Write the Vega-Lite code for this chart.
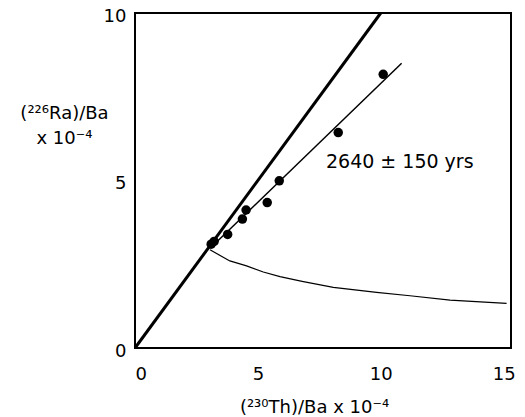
{
  "$schema": "https://vega.github.io/schema/vega-lite/v6.json",
  "width": 376,
  "height": 335,
  "autosize": "none",
  "padding": {"left": 135, "top": 13, "right": 14, "bottom": 69},
  "background": "white",
  "config": {
    "view": {"stroke": "black", "strokeWidth": 2},
    "font": "DejaVu Sans, sans-serif"
  },
  "datasets": {
    "equiline": [{"x": 0, "y": 0}, {"x": 10, "y": 10}],
    "fit": [{"x": 3.12, "y": 3.02}, {"x": 10.85, "y": 8.5}],
    "curve": [
      {"x": 3.05, "y": 2.93}, {"x": 3.86, "y": 2.6}, {"x": 4.54, "y": 2.45},
      {"x": 5.22, "y": 2.27}, {"x": 5.9, "y": 2.13}, {"x": 6.8, "y": 1.99},
      {"x": 8.07, "y": 1.81}, {"x": 9.83, "y": 1.66}, {"x": 11.19, "y": 1.56},
      {"x": 12.82, "y": 1.43}, {"x": 15.12, "y": 1.33}
    ],
    "samples": [
      {"x": 3.1, "y": 3.1}, {"x": 3.22, "y": 3.18}, {"x": 3.77, "y": 3.39},
      {"x": 4.37, "y": 3.85}, {"x": 4.52, "y": 4.12}, {"x": 5.38, "y": 4.34},
      {"x": 5.87, "y": 4.99}, {"x": 8.27, "y": 6.43}, {"x": 10.1, "y": 8.17}
    ],
    "label": [{"x": 7.77, "y": 5.55, "text": "2640 ± 150 yrs"}]
  },
  "encoding": {
    "x": {
      "field": "x", "type": "quantitative",
      "scale": {"domain": [0, 15.3], "nice": false},
      "axis": {
        "values": [0, 5, 10, 15], "ticks": false, "domain": false, "grid": false,
        "labelFontSize": 18, "labelColor": "black", "labelPadding": 17,
        "title": "(²³⁰Th)/Ba x 10⁻⁴", "titleFontSize": 18, "titleFontWeight": "normal",
        "titleColor": "black", "titleX": 179, "titleY": 64, "titleAlign": "center",
        "titleBaseline": "alphabetic"
      }
    },
    "y": {
      "field": "y", "type": "quantitative",
      "scale": {"domain": [0, 10], "nice": false},
      "axis": {
        "values": [0, 5, 10], "ticks": false, "domain": false, "grid": false,
        "labelFontSize": 18, "labelColor": "black", "labelPadding": 9, "labelOffset": 3,
        "title": ["(²²⁶Ra)/Ba", "x 10⁻⁴"], "titleFontSize": 18, "titleFontWeight": "normal",
        "titleColor": "black", "titleAngle": 0, "titleX": -71, "titleY": 100,
        "titleAlign": "center", "titleBaseline": "middle", "titleLineHeight": 25
      }
    }
  },
  "layer": [
    {"data": {"name": "equiline"}, "mark": {"type": "line", "color": "black", "strokeWidth": 3}},
    {"data": {"name": "fit"}, "mark": {"type": "line", "color": "black", "strokeWidth": 1.5}},
    {"data": {"name": "curve"}, "mark": {"type": "line", "color": "black", "strokeWidth": 1.2}},
    {"data": {"name": "samples"}, "mark": {"type": "point", "filled": true, "color": "black", "opacity": 1, "size": 90}},
    {"data": {"name": "label"}, "mark": {"type": "text", "align": "left", "baseline": "middle", "fontSize": 19, "color": "black"},
     "encoding": {"text": {"field": "text"}}}
  ]
}
